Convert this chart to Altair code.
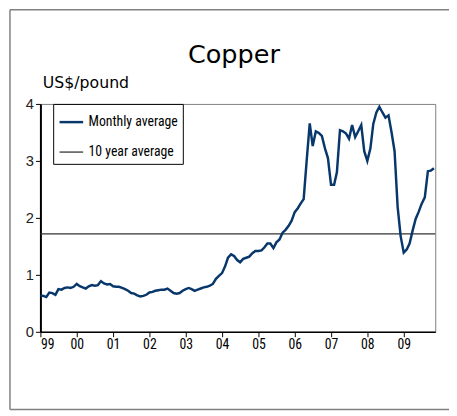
import altair as alt
import pandas as pd

# Monthly average copper price, US$/pound, Jan 1999 - Nov 2009
start_month = "1999-01-01"
prices = [
    # 1999
    0.64, 0.63, 0.61, 0.69, 0.68, 0.65, 0.75, 0.74, 0.77, 0.78, 0.77, 0.79,
    # 2000
    0.84, 0.80, 0.78, 0.76, 0.80, 0.82, 0.81, 0.82, 0.89, 0.85, 0.83, 0.84,
    # 2001
    0.80, 0.79, 0.79, 0.77, 0.75, 0.72, 0.68, 0.67, 0.64, 0.62, 0.63, 0.65,
    # 2002
    0.69, 0.70, 0.72, 0.73, 0.74, 0.74, 0.76, 0.72, 0.68, 0.67, 0.68, 0.72,
    # 2003
    0.75, 0.77, 0.75, 0.72, 0.74, 0.76, 0.78, 0.79, 0.81, 0.84, 0.93, 0.98,
    # 2004
    1.03, 1.15, 1.30, 1.36, 1.33, 1.26, 1.22, 1.28, 1.30, 1.32, 1.38, 1.42,
    # 2005
    1.42, 1.43, 1.48, 1.55, 1.55, 1.47, 1.57, 1.62, 1.74, 1.79, 1.86, 1.95,
    # 2006
    2.10, 2.17, 2.25, 2.33, 3.00, 3.66, 3.26, 3.52, 3.49, 3.44, 3.22, 3.05,
    # 2007
    2.58, 2.58, 2.80, 3.54, 3.52, 3.48, 3.39, 3.63, 3.42, 3.52, 3.63, 3.17,
    # 2008
    3.00, 3.22, 3.65, 3.85, 3.95, 3.85, 3.76, 3.80, 3.50, 3.17, 2.19, 1.68,
    # 2009
    1.39, 1.45, 1.55, 1.78, 1.98, 2.11, 2.25, 2.36, 2.82, 2.83, 2.87,
]
ten_year_average = [1.72]
series_names = ["Monthly average", "10 year average"]
series_colors = ["#08376b", "#333333"]
year_ticks = list(range(1999, 2010))

dates = pd.date_range(start_month, periods=len(prices), freq="MS")
monthly = pd.DataFrame({"date": dates.strftime("%Y-%m-%d"), "price": prices,
                        "series": series_names[0]})
avg = pd.DataFrame({"price": ten_year_average, "series": series_names[1]})
frame_df = pd.DataFrame({"k": [0]})

narrow = "Liberation Sans Narrow, Arial Narrow, Roboto Condensed, Liberation Sans, sans-serif"

color = alt.Color("series:N",
                  scale=alt.Scale(domain=series_names, range=series_colors),
                  legend=alt.Legend(title=None))
width_enc = alt.StrokeWidth("series:N",
                            scale=alt.Scale(domain=series_names, range=[2.5, 1.3]),
                            legend=alt.Legend(title=None))

x_enc = alt.X("date:T",
              scale=alt.Scale(type="utc",
                              domain=[alt.DateTime(year=1999, month=1, date=1, utc=True),
                                      alt.DateTime(year=2009, month=11, date=14, utc=True)]),
              axis=alt.Axis(title=None,
                            labelExpr="utcFormat(datum.value, '%y')",
                            values=[alt.DateTime(year=y, month=1, date=1, utc=True) for y in year_ticks],
                            labelOverlap=False,
                            labelFont=narrow, labelFontSize=14, labelColor="black",
                            labelPadding=1, tickSize=5, tickColor="black",
                            domainColor="black", domainWidth=1.5, grid=False))
y_enc = alt.Y("price:Q",
              scale=alt.Scale(domain=[0, 4], nice=False),
              axis=alt.Axis(title="US$/pound", titleAngle=0, titleAlign="left",
                            titleBaseline="alphabetic", titleX=2, titleY=-17,
                            titleFont="DejaVu Sans", titleFontSize=16,
                            titleFontWeight="normal", titleColor="black",
                            values=[0, 1, 2, 3, 4], format="d",
                            labelFont="Liberation Sans, Arial, sans-serif",
                            labelFontSize=15, labelColor="#222222", labelPadding=2,
                            tickSize=5, tickColor="black", domainColor="black",
                            domainWidth=2, grid=False))

line = alt.Chart(monthly).mark_line(interpolate="linear").encode(
    x=x_enc, y=y_enc, color=color, strokeWidth=width_enc)

rule = alt.Chart(avg).mark_rule().encode(
    y=alt.Y("price:Q"), color=color, strokeWidth=width_enc)

# outer frame of the figure (left, top and bottom edges; right edge is off-page)
frame_style = dict(color="#808080", strokeWidth=1.5, clip=False)
frame_top = alt.Chart(frame_df).mark_rule(**frame_style).encode(
    x=alt.value(-31), x2=alt.value(520), y=alt.value(-96))
frame_bottom = alt.Chart(frame_df).mark_rule(**frame_style).encode(
    x=alt.value(-31), x2=alt.value(520), y=alt.value(311))
frame_left = alt.Chart(frame_df).mark_rule(**frame_style).encode(
    x=alt.value(-31), y=alt.value(-96), y2=alt.value(311))

chart = alt.layer(frame_top, frame_bottom, frame_left, rule, line).properties(
    width=402, height=232,
    title=alt.TitleParams("Copper", font="DejaVu Sans", fontSize=26,
                          fontWeight="normal", color="black", anchor="middle",
                          frame="group", baseline="alphabetic", offset=-81, dx=-4),
    autosize=alt.AutoSizeParams(type="none"),
    padding={"left": 33, "top": 94, "right": 14, "bottom": 80},
).configure_view(
    stroke="#808080", strokeWidth=1
).configure_legend(
    orient="none", legendX=13, legendY=0, direction="vertical",
    strokeColor="black", fillColor="white", padding=5,
    symbolType="stroke", symbolSize=576, rowPadding=10,
    labelFont=narrow, labelFontSize=14, labelColor="black", labelOffset=4,
)

chart.save("out.html", embed_options={"renderer": "svg", "actions": False})
